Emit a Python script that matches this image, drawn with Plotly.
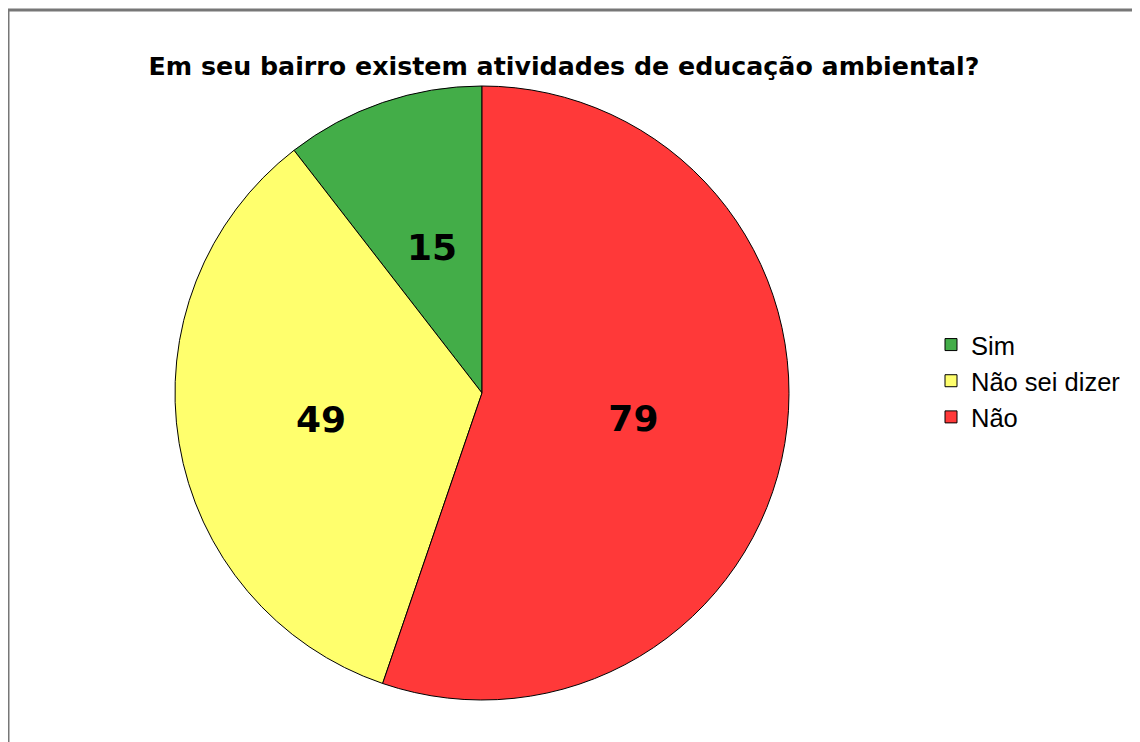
import math
import plotly.graph_objects as go

# survey answers
labels = ['Sim', 'Não sei dizer', 'Não']
values = [15, 49, 79]
colors = ['#43ad48', '#ffff6d', '#ff3939']

W, H = 1140, 742
CX, CY, R = 474, 385, 307   # pie centre / radius in px

# first slice should end at 12 o'clock when going counterclockwise
start = -360 * values[0] / sum(values)

label_font = dict(family='DejaVu Sans', size=36, color='black', weight='bold')

fig = go.Figure(go.Pie(
    labels=labels,
    values=values,
    sort=False,
    direction='counterclockwise',
    rotation=start,
    marker=dict(colors=colors, line=dict(color='black', width=1)),
    textinfo='value',
    # the small slice gets its label at half radius (plotly would push it outwards)
    textposition=['none', 'inside', 'inside'],
    insidetextorientation='horizontal',
    textfont=label_font,
    domain=dict(x=[(CX-R)/W, (CX+R)/W], y=[(H-CY-R)/H, (H-CY+R)/H]),
    hoverinfo='label+value+percent',
))

mid = math.radians(start / 2)   # bisector of the first slice, clockwise from 12
fig.add_annotation(
    text=str(values[0]), showarrow=False, font=label_font,
    xref='paper', yref='paper', xanchor='center', yanchor='middle',
    x=(CX + 0.5 * R * math.sin(mid)) / W,
    y=(H - CY + 0.5 * R * math.cos(mid)) / H,
)

fig.update_layout(
    width=W, height=H,
    margin=dict(l=0, r=0, t=0, b=0),
    paper_bgcolor='white',
    font=dict(family='Liberation Sans', color='black'),
    title=dict(text='<b>Em seu bairro existem atividades de educação ambiental?</b>',
               x=556/W, xanchor='center', y=(H-58)/H, yanchor='middle',
               font=dict(size=25.3, family='DejaVu Sans', color='black')),
    legend=dict(x=923/W, xanchor='left', y=(H-373)/H, yanchor='middle',
                font=dict(size=25.5, family='Liberation Sans', color='black'),
                traceorder='normal'),
    shapes=[dict(type='rect', xref='paper', yref='paper',
                 x0=0, x1=1.05, y0=-0.05, y1=(H-2)/H,
                 line=dict(color='#777777', width=3), fillcolor='rgba(0,0,0,0)')],
)

fig.write_html('out.html')
